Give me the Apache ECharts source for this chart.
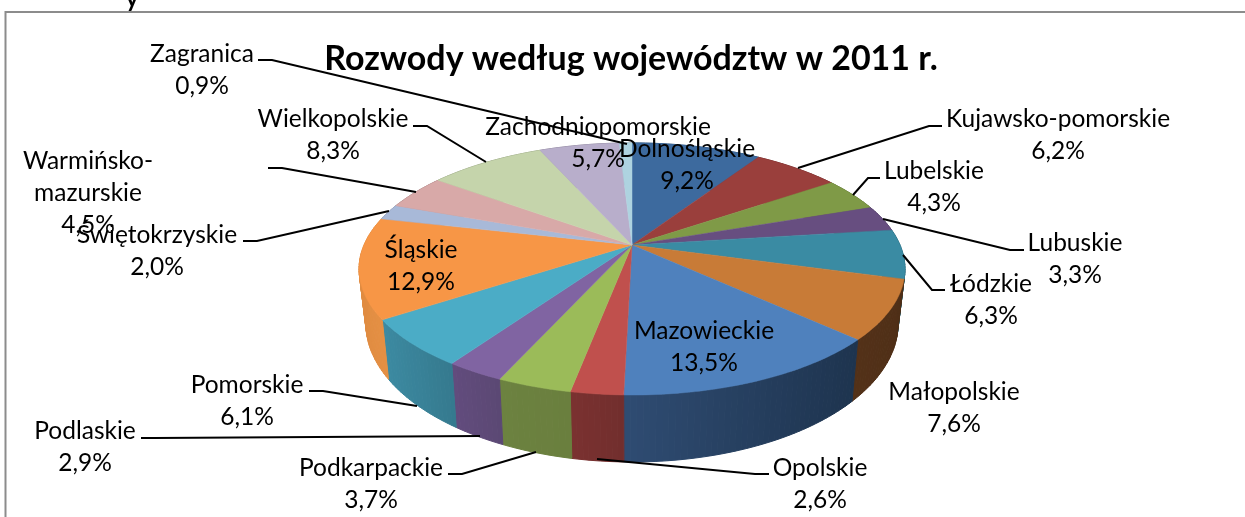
<!DOCTYPE html>
<html><head><meta charset="utf-8">
<style>html,body{margin:0;padding:0;background:#fff}#c{width:1245px;height:517px}</style>
<script src="https://cdn.jsdelivr.net/npm/echarts@6/dist/echarts.min.js"></script>
</head><body><div id="c"></div>
<script>
const titleText = 'Rozwody według województw w 2011 r.';
const categories = ['Dolnośląskie','Kujawsko-pomorskie','Lubelskie','Lubuskie','Łódzkie','Małopolskie','Mazowieckie','Opolskie','Podkarpackie','Podlaskie','Pomorskie','Śląskie','Świętokrzyskie','Warmińsko-\nmazurskie','Wielkopolskie','Zachodniopomorskie','Zagranica'];
const shares = [9.2,6.2,4.3,3.3,6.3,7.6,13.5,2.6,3.7,2.9,6.1,12.9,2.0,4.5,8.3,5.7,0.9];
const topColors = ['#3d6a9e','#9a3f3c','#7f9a47','#674e80','#3a8ba3','#c87b37','#4f81bd','#c0504d','#9bbb59','#8064a2','#4bacc6','#f79646','#a8b9d8','#d8a9a8','#c5d4ab','#b8aecb','#aed3e0'];
const sideColors = [['#2d4f76','#2d4f76'],['#733030','#733030'],['#5f7335','#5f7335'],['#4d3a60','#4d3a60'],['#2b687a','#2b687a'],['#533118','#4f2f17'],['#2f4c72','#1e344f'],['#7a3130','#722e2d'],['#6c8240','#6a7f3e'],['#624c7d','#5b4874'],['#3c8aa1','#35798e'],['#e08c42','#e59043'],['#7e8aa2','#7e8aa2'],['#a27f7e','#a27f7e'],['#949f80','#949f80'],['#8a8298','#8a8298'],['#829ea8','#829ea8']];
/* label anchor: centre x, centre y of the first line */
const labelAnchors = [[687,149],[1058,119],[934,171],[1075,243],[991,284],[954,392],[704,331],[820,468],[371,468],[85,431],[247,385],[421,250],[157,235],[88,161],[333,119],[598,127],[202,54]];
const leaderLines = [null,[[942,126],[929,126],[798,168]],[[880,178],[868,178],[853,195]],[[1024,250],[1010,250],[883,219]],[[945,290],[932,290],[903,255]],null,null,[[769,474],[755,474],[597,459]],[[448,474],[462,474],[536,452]],[[141,438],[155,438],[480,436]],[[309,391],[323,391],[417,406]],null,[[243,241],[257,241],[389,211]],[[268,168],[282,168],[416,192]],[[413,126],[427,126],[486,162]],null,[[258,60],[272,60],[627,144]]];

const FONT = 'Lato, Carlito, sans-serif';
const LABEL_FONT = '24.5px ' + FONT;
const LINE_H = 32;

/* perspective disc */
const CX = 632, CY = 245, A = 268, B = 121.5, K = 0.19;
function rim(theta){
  const u = Math.sin(theta), v = -Math.cos(theta), w = 1 - K * v;
  return [CX + A * u / w, CY + B * v / w];
}
function lower(p){ return [CX + (p[0] - CX) * 0.975, 297 + (p[1] - CY) * 1.1]; }
function sliceAngles(i){
  const total = shares.reduce((a, b) => a + b, 0);
  let s = 0; for (let k = 0; k < i; k++) s += shares[k];
  return [s / total * 2 * Math.PI, (s + shares[i]) / total * 2 * Math.PI];
}
function arc(t0, t1){
  const n = Math.max(2, Math.ceil((t1 - t0) / 0.02)), pts = [];
  for (let j = 0; j <= n; j++) pts.push(rim(t0 + (t1 - t0) * j / n));
  return pts;
}
const seriesData = categories.map((c, i) => ({ name: c, value: shares[i] }));

const option = {
  backgroundColor: '#fff',
  animation: false,
  graphic: [
    { type:'rect', silent:true, z:0, shape:{x:5.5,y:12,width:1400,height:700}, style:{fill:'#fff',stroke:'#8c8c8c',lineWidth:2} },
    { type:'text', silent:true, z:1, style:{text:'y',x:132,y:-13,align:'center',font:'bold 24px '+FONT,fill:'#000'} }
  ],
  title: { text: titleText, left: 626, top: 33, textAlign: 'center',
    textStyle:{ fontFamily: FONT, fontWeight:'bold', fontSize:34, color:'#000', lineHeight:42 } },
  series: [
    { type:'custom', coordinateSystem:'none', silent:true, z:3, data:seriesData,
      renderItem(params){
        const i = params.dataIndex, [a,b] = sliceAngles(i), top = arc(a,b);
        const xs = top.map(p => p[0]), x0 = Math.min(...xs), x1 = Math.max(...xs);
        const children = [];
        for (let j = 0; j < top.length - 1; j++) {
          const p = top[j], q = top[j+1];
          const t = ((p[0] + q[0]) / 2 - x0) / Math.max(1, x1 - x0);
          const col = echarts.color.lerp(t, sideColors[i]);
          children.push({ type:'polygon', shape:{points:[p,q,lower(q),lower(p)]}, style:{fill:col,stroke:col,lineWidth:1} });
        }
        return { type:'group', children };
      } },
    { type:'custom', coordinateSystem:'none', silent:true, z:4, data:seriesData,
      renderItem(params){
        const i = params.dataIndex, [a,b] = sliceAngles(i);
        return { type:'polygon', shape:{points:[[CX,CY]].concat(arc(a,b))},
          style:{fill:topColors[i],stroke:topColors[i],lineWidth:0.5} };
      } },
    { type:'custom', coordinateSystem:'none', silent:true, z:5, data:seriesData,
      renderItem(params, api){
        const i = params.dataIndex, children = [];
        if (leaderLines[i]) children.push({ type:'polyline', shape:{points:leaderLines[i]}, style:{stroke:'#000',lineWidth:2,fill:'none'} });
        const lines = categories[i].split('\n');
        lines.push(api.value(0).toFixed(1).replace('.', ',') + '%');
        const [x,y] = labelAnchors[i];
        lines.forEach((t, j) => children.push({ type:'text',
          style:{ text:t, x, y:y + j * LINE_H, align:'center', verticalAlign:'middle', font:LABEL_FONT, fill:'#000' } }));
        return { type:'group', children };
      } }
  ]
};
const chart = echarts.init(document.getElementById('c'), null, {renderer:'canvas'});
chart.setOption(option);
</script></body></html>
